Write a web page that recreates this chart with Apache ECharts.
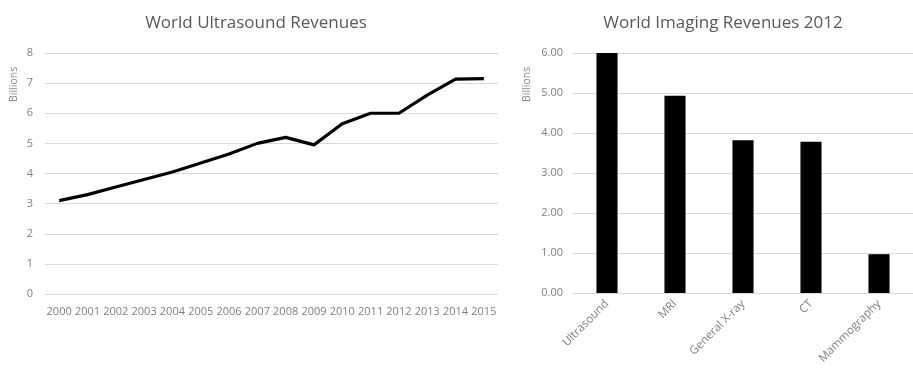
<!DOCTYPE html>
<html><head><meta charset="utf-8">
<script src="https://cdn.jsdelivr.net/npm/echarts@6/dist/echarts.min.js"></script>
<style>html,body{margin:0;padding:0;background:#fff}#c{width:913px;height:369px}</style>
</head><body><div id="c"></div>
<script>
const years = ['2000','2001','2002','2003','2004','2005','2006','2007','2008','2009','2010','2011','2012','2013','2014','2015'];
const ultrasoundRevenue = [3.1,3.3,3.55,3.8,4.05,4.35,4.65,5.0,5.2,4.95,5.65,6.0,6.0,6.6,7.13,7.15];
const modalities = ['Ultrasound','MRI','General X-ray','CT','Mammography'];
const imagingRevenue2012 = [6.0,4.93,3.82,3.78,0.97];
const leftTicks = [0,8,1];
const rightTicks = [0,6,1];

const FONT = 'Open Sans';
const chart = echarts.init(document.getElementById('c'));
chart.setOption({
  animation:false,
  title:[
    {text:'World Ultrasound Revenues',left:251,top:10,textAlign:'center',textStyle:{fontFamily:FONT,fontSize:17,fontWeight:'normal',color:'#595959'}},
    {text:'World Imaging Revenues 2012',left:718,top:10,textAlign:'center',textStyle:{fontFamily:FONT,fontSize:17,fontWeight:'normal',color:'#595959'}}
  ],
  graphic:[
    {type:'text',x:9,y:102,rotation:Math.PI/2,style:{text:'Billions',fontFamily:FONT,fontSize:10.5,fill:'#8c8c8c'}},
    {type:'text',x:522,y:102,rotation:Math.PI/2,style:{text:'Billions',fontFamily:FONT,fontSize:10.5,fill:'#8c8c8c'}}
  ],
  grid:[
    {left:45,right:415,top:53,bottom:75},
    {left:573,right:-6,top:53,bottom:76}
  ],
  xAxis:[
    {type:'category',gridIndex:0,data:years,boundaryGap:true,
     axisLine:{show:false},axisTick:{show:false},
     axisLabel:{interval:0,fontFamily:FONT,fontSize:11,color:'#7f7f7f',margin:12}},
    {type:'category',gridIndex:1,data:modalities,
     axisLine:{show:false},axisTick:{show:false},
     axisLabel:{interval:0,rotate:45,fontFamily:FONT,fontSize:11.5,color:'#7f7f7f',margin:9}}
  ],
  yAxis:[
    {type:'value',gridIndex:0,min:leftTicks[0],max:leftTicks[1],interval:leftTicks[2],
     axisLine:{show:false},axisTick:{show:false},
     axisLabel:{fontFamily:FONT,fontSize:11,color:'#7f7f7f',margin:12},
     splitLine:{lineStyle:{color:'#d9d9d9',width:1}}},
    {type:'value',gridIndex:1,min:rightTicks[0],max:rightTicks[1],interval:rightTicks[2],
     axisLine:{show:false},axisTick:{show:false},
     axisLabel:{fontFamily:FONT,fontSize:11,color:'#7f7f7f',margin:10,formatter:v=>v.toFixed(2)},
     splitLine:{lineStyle:{color:'#d9d9d9',width:1}}}
  ],
  series:[
    {type:'line',xAxisIndex:0,yAxisIndex:0,data:ultrasoundRevenue,symbol:'none',
     lineStyle:{color:'#000',width:3.2},itemStyle:{color:'#000'}},
    {type:'bar',xAxisIndex:1,yAxisIndex:1,data:imagingRevenue2012,barWidth:'31%',
     itemStyle:{color:'#000'}}
  ]
});
</script></body></html>
